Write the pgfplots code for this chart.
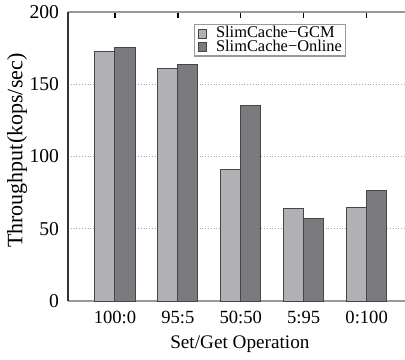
\documentclass[border=0pt]{standalone}
\usepackage{fontspec}
\setmainfont{Liberation Serif}
\usepackage{pgfplots}
\pgfplotsset{compat=1.18}
\definecolor{gcm}{RGB}{177,177,181}
\definecolor{onl}{RGB}{122,122,127}
\definecolor{edge}{RGB}{70,70,72}
\begin{document}
\begin{tikzpicture}
\begin{axis}[
  scale only axis,
  width=168.5pt, height=144.5pt,
  xmin=-0.747, xmax=4.61,
  ymin=0, ymax=200,
  axis x line*=box, axis y line*=left,
  x axis line style={gray!80, line width=0.8pt, -},
  y axis line style={black!80, line width=0.7pt, -},
  xtick={0,1,2,3,4},
  xticklabels={100:0,95:5,50:50,5:95,0:100},
  ytick={0,50,100,150,200},
  major tick length=3pt,
  tick align=inside,
  ytick style={draw=none},
  xtick style={black, line width=0.6pt},
  ymajorgrids,
  grid style={gray!70, densely dotted, line width=0.5pt},
  font=\fontsize{9.5}{11}\selectfont,
  /pgf/number format/assume math mode=true,
  yticklabel style={font=\fontsize{9.8}{11}\selectfont, xshift=-1pt},
  xticklabel style={font=\fontsize{9.3}{11}\selectfont, yshift=-1.5pt},
  xlabel={Set/Get Operation},
  ylabel={Throughput(kops/sec)},
  xlabel style={at={(axis description cs:0.51,-0.149)}, anchor=center, font=\fontsize{9.6}{11}\selectfont},
  ylabel style={at={(axis description cs:-0.151,0.52)}, anchor=center, rotate=0, font=\fontsize{11}{13}\selectfont},
  bar width=0.318,
  clip=false,
  legend style={at={(axis description cs:0.374,0.958)}, anchor=north west,
    draw=gray!80, line width=0.6pt, font=\fontsize{8.2}{8}\selectfont,
    inner xsep=1.5pt, inner ysep=1pt, row sep=0pt, cells={anchor=west},
    nodes={text height=5pt, text depth=1pt, inner sep=0.4pt},
    /tikz/every even column/.append style={column sep=0pt}},
  legend image code/.code={\draw[#1, line width=0.4pt] (0pt,-2.2pt) rectangle (4.4pt,2.2pt);},
]
\addplot[ybar, bar shift=-0.159, fill=gcm, draw=edge, line width=0.5pt] coordinates {(0,172.5) (1,161.2) (2,90.7) (3,63.7) (4,64.8)};
\addlegendentry{\hspace{4pt}SlimCache−GCM}
\addplot[ybar, bar shift=0.159, fill=onl, draw=edge, line width=0.5pt] coordinates {(0,175.5) (1,163.8) (2,135.0) (3,57.2) (4,76.6)};
\addlegendentry{\hspace{4pt}SlimCache−Online}
\coordinate (O) at (rel axis cs:0,0);
\end{axis}
\pgfresetboundingbox
\path (O) ++(-34pt,-29pt) rectangle ++(202.5pt,179.5pt);
\end{tikzpicture}
\end{document}
